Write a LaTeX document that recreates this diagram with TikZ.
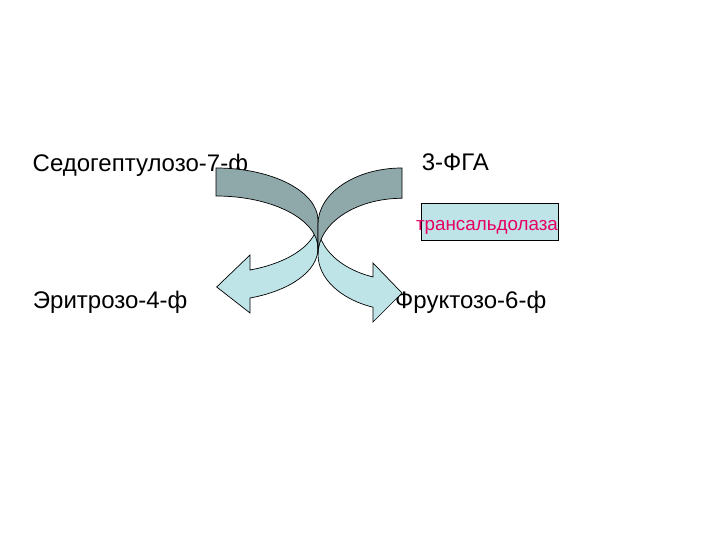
\documentclass[tikz,border=0pt]{standalone}
\usepackage{fontspec}
\setmainfont{Liberation Sans}
\definecolor{backside}{RGB}{143,168,170}
\definecolor{frontside}{RGB}{190,228,232}
\definecolor{enzyme}{RGB}{230,0,100}
\tikzset{metab/.style={anchor=base west, inner sep=0pt, font=\fontsize{24}{28}\selectfont},
enzbox/.style={draw=black, fill=frontside, text=enzyme, inner sep=0pt, minimum width=137.6pt, minimum height=36.7pt, text height=18.6pt, text depth=0pt, font=\fontsize{18.8}{22}\selectfont},
back/.style={fill=backside, draw=black, line width=0.7pt},
front/.style={fill=frontside, draw=black, line width=0.7pt},
%radii of the two curved arrows
larc/.style={x radius=102, y radius=52.5},
rarc/.style={x radius=84, y radius=56.2}}
\begin{document}
\begin{tikzpicture}[x=1pt,y=1pt]

    \useasboundingbox (0,0) rectangle (720,540);

    \node[metab] (sed) at (32.5,368.5) {Седогептулозо-7-ф};
    \node[metab] (fga) at (421.7,369.3) {3-ФГА};
    \node[metab] (eri) at (32.7,231.7) {Эритрозо-4-ф};
    \node[metab] (fru) at (395,231.7) {Фруктозо-6-ф};

    \node[enzbox] (tal) at (489.5,318.3) {\hspace*{-5pt}трансальдолаза};


    \draw[front] (318,319.5) arc[start angle=0, end angle=-70.5, larc] -- (250,285) -- (216.7,253) -- (250,227) -- (250,242) arc[start angle=-70.5, end angle=0, larc] -- cycle;
    \draw[front] (318,315.8) arc[start angle=180, end angle=249.8, rarc] -- (373,277) -- (402,247) -- (373,218) -- (373,232.8) arc[start angle=249.8, end angle=180, rarc] -- cycle;


    \draw[back] (216,372) arc[start angle=90, end angle=0, larc] -- (318,291.5) arc[start angle=0, end angle=90, larc] -- cycle;
    \draw[back] (402,372) arc[start angle=90, end angle=180, rarc] -- (318,285.5) arc[start angle=180, end angle=90, rarc] -- cycle;

  \end{tikzpicture}
\end{document}
